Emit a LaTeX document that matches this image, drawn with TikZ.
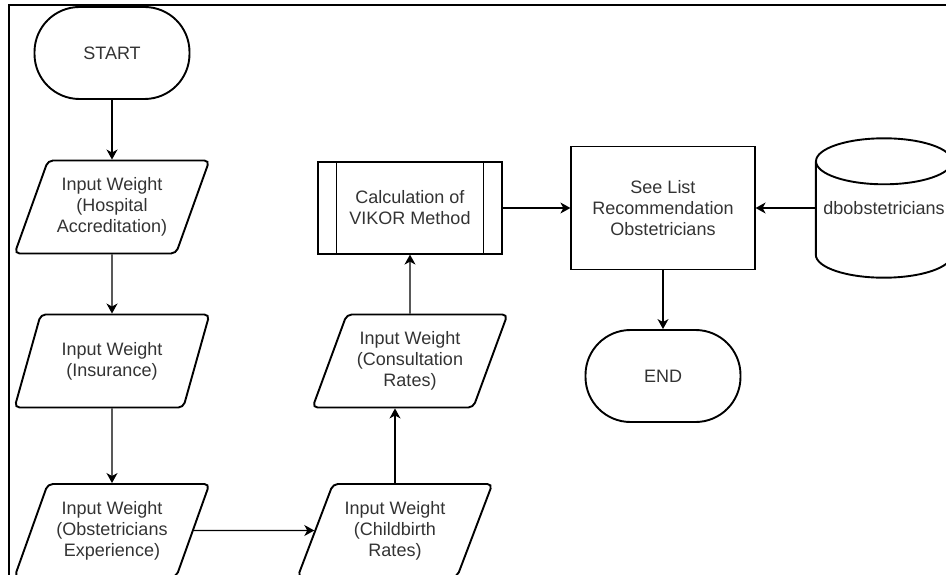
\documentclass[tikz,border=0pt]{standalone}
\usepackage{fontspec}
\setmainfont{Liberation Sans}
\usetikzlibrary{shapes.geometric,arrows.meta,calc}
\definecolor{txt}{HTML}{333333}
\begin{document}
\begin{tikzpicture}[x=1pt,y=-1pt,
  every node/.style={font=\fontsize{18}{21}\selectfont, text=txt, align=center},
  term/.style={draw, line width=1.9pt, rounded corners=45pt, minimum width=155pt, minimum height=92pt, inner sep=0pt},
  para/.style={draw, line width=1.9pt, trapezium, trapezium left angle=64, trapezium right angle=116, trapezium stretches=true, minimum width=195pt, minimum height=93pt, inner sep=0pt, rounded corners=5pt},
  box/.style={draw, line width=1.2pt, inner sep=0pt},
  conn/.style={line width=1.2pt, -{Stealth[length=10pt,width=11pt,inset=3pt]}},
  frame/.style={line width=2pt},
  cyl/.style={line width=1.9pt},
]
\useasboundingbox (0,0) rectangle (946,575);
\draw[frame] (946,5) -- (9,5) -- (9,576);

\node[term] (start) at (112,53) {START};
\node[para] (p1) at (112,207) {Input Weight\\(Hospital\\Accreditation)};
\node[para] (p2) at (112,361) {Input Weight\\(Insurance)};
\node[para] (p3) at (112,530.5) {Input Weight\\(Obstetricians\\Experience)};
\node[para] (p4) at (395,530.5) {Input Weight\\(Childbirth\\Rates)};
\node[para] (p5) at (410,361) {Input Weight\\(Consultation\\Rates)};
\node[box, minimum width=184pt, minimum height=92pt] (vikor) at (410,208) {Calculation of\\VIKOR Method};
\draw[line width=1.2pt] ([xshift=19pt]vikor.north west) -- ([xshift=19pt]vikor.south west);
\draw[line width=1.2pt] ([xshift=-19pt]vikor.north east) -- ([xshift=-19pt]vikor.south east);
\node[box, minimum width=184pt, minimum height=123pt] (see) at (663,208) {See List\\Recommendation\\Obstetricians};
\node[term] (end) at (663,376) {END};

\node[inner sep=0pt, minimum width=136pt, minimum height=139pt] (db) at (884,208) {dbobstetricians};
\draw[cyl] ($(db.north west)+(0,23)$) -- ($(db.south west)+(0,-23)$)
  arc[start angle=180, end angle=360, x radius=68pt, y radius=23pt]
  -- ($(db.north east)+(0,23)$);
\draw[cyl] ($(db.north)+(0,23)$) ellipse [x radius=68pt, y radius=23pt];

\draw[conn] (start) -- (p1);
\draw[conn] (p1) -- (p2);
\draw[conn] (p2) -- (p3);
\draw[conn] (p3) -- (p4);
\draw[conn] (p4.north) -- (p4.north |- p5.south);
\draw[conn] (p5) -- (vikor);
\draw[conn] (vikor) -- (see);
\draw[conn] (db.west) -- (see.east);
\draw[conn] (see) -- (end);
\end{tikzpicture}
\end{document}
